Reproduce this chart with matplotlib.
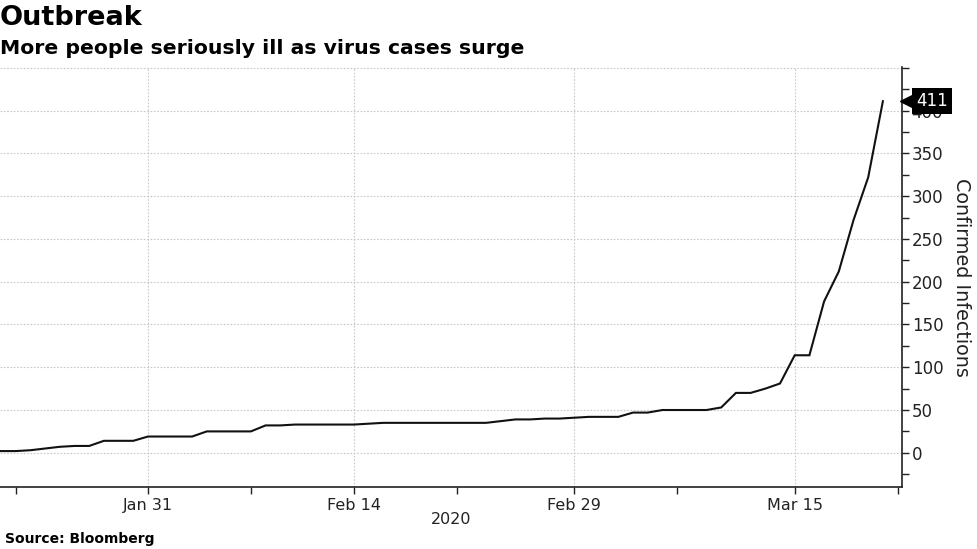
import matplotlib
matplotlib.use("Agg")
import matplotlib.pyplot as plt
import matplotlib.dates as mdates
import matplotlib.transforms as mtransforms
import pandas as pd

# ---- data ----
start_date = "2020-01-20"
confirmed = [2, 2, 2, 3, 5, 7, 8, 8, 14, 14, 14,          # Jan 20 - Jan 30
             19, 19, 19, 19, 25, 25, 25, 25, 32, 32,       # Jan 31 - Feb 9
             33, 33, 33, 33, 33, 34, 35, 35, 35, 35,       # Feb 10 - Feb 19
             35, 35, 35, 35, 37, 39, 39, 40, 40, 41,       # Feb 20 - Feb 29
             42, 42, 42, 47, 47, 50, 50, 50, 50, 53,       # Mar 1 - Mar 10
             70, 70, 75, 81, 114, 114, 177, 212, 272, 322, # Mar 11 - Mar 20
             411]                                          # Mar 21
dates = pd.date_range(start_date, periods=len(confirmed), freq="D")

major_dates = ["2020-01-31", "2020-02-14", "2020-02-29", "2020-03-15"]
major_labels = ["Jan 31", "Feb 14", "Feb 29", "Mar 15"]
minor_dates = ["2020-01-22", "2020-02-07", "2020-02-21", "2020-03-07", "2020-03-22"]
y_major = [0, 50, 100, 150, 200, 250, 300, 350, 400, 450]
y_labels = ["0", "50", "100", "150", "200", "250", "300", "350", "400", ""]
y_minor = [-25, 25, 75, 125, 175, 225, 275, 325, 375, 425]

title = "Outbreak"
subtitle = "More people seriously ill as virus cases surge"
source = "Source: Bloomberg"
ylabel = "Confirmed Infections"
year_label = "2020"
last_label = "411"

# ---- figure ----
W, H = 977, 549
fig = plt.figure(figsize=(W / 100, H / 100), dpi=100)
ax = fig.add_axes([0, (H - 487) / H, 902 / W, (487 - 67) / H])

text_col = "#222222"
ax.plot(dates, confirmed, color="#111111", lw=1.5, solid_joinstyle="miter", zorder=3)

x0 = mdates.date2num(pd.Timestamp("2020-01-21")) - 0.07
x1 = mdates.date2num(pd.Timestamp("2020-03-22")) + 0.3
ax.set_xlim(x0, x1)
ax.set_ylim(-40, 451)

ax.set_xticks([mdates.date2num(pd.Timestamp(d)) for d in major_dates])
ax.set_xticklabels(major_labels)
ax.set_xticks([mdates.date2num(pd.Timestamp(d)) for d in minor_dates], minor=True)

ax.yaxis.tick_right()
ax.yaxis.set_label_position("right")
ax.set_yticks(y_major)
ax.set_yticklabels(y_labels)
ax.set_yticks(y_minor, minor=True)

for s in ["left", "top"]:
    ax.spines[s].set_visible(False)
for s in ["bottom", "right"]:
    ax.spines[s].set_color("#222222")
    ax.spines[s].set_linewidth(1.2)

ax.tick_params(axis="both", which="both", direction="out", length=5, width=1,
               color="#222222", labelcolor=text_col)
ax.tick_params(axis="x", which="major", pad=3, labelsize=11.5)
ax.tick_params(axis="y", which="major", pad=2, labelsize=12)

ax.grid(True, which="major", axis="both", color="#c8c8c8", linestyle=(0, (1.5, 1.5)), lw=0.8)
ax.set_axisbelow(True)

ax.set_ylabel(ylabel, rotation=270, fontsize=13.8, color=text_col, labelpad=20)

# last value tag
trans = mtransforms.blended_transform_factory(ax.transAxes, ax.transData)
ax.plot([1.0], [confirmed[-1]], marker="<", markersize=13, color="black",
        transform=trans + mtransforms.ScaledTranslation(7 / 100, 0, fig.dpi_scale_trans),
        clip_on=False, zorder=6)
ax.text(1.0, confirmed[-1], last_label,
        transform=trans + mtransforms.ScaledTranslation(14 / 100, 0, fig.dpi_scale_trans),
        ha="left", va="center", color="white", fontsize=12, zorder=7,
        bbox=dict(boxstyle="square,pad=0.25", fc="black", ec="none"), clip_on=False)

# year label
fig.text(451 / W, 1 - 519 / H, year_label, ha="center", va="center",
         fontsize=11.5, color=text_col)

# titles
fig.text(0.0, 1 - 18 / H, title, ha="left", va="center", fontsize=19.5,
         fontweight="bold", color="black")
fig.text(0.0, 1 - 48 / H, subtitle, ha="left", va="center", fontsize=14.7,
         fontweight="bold", color="black")
fig.text(5 / W, 1 - 539 / H, source, ha="left", va="center", fontsize=10,
         fontweight="bold", color="black")

fig.savefig("out.png", dpi=100)
